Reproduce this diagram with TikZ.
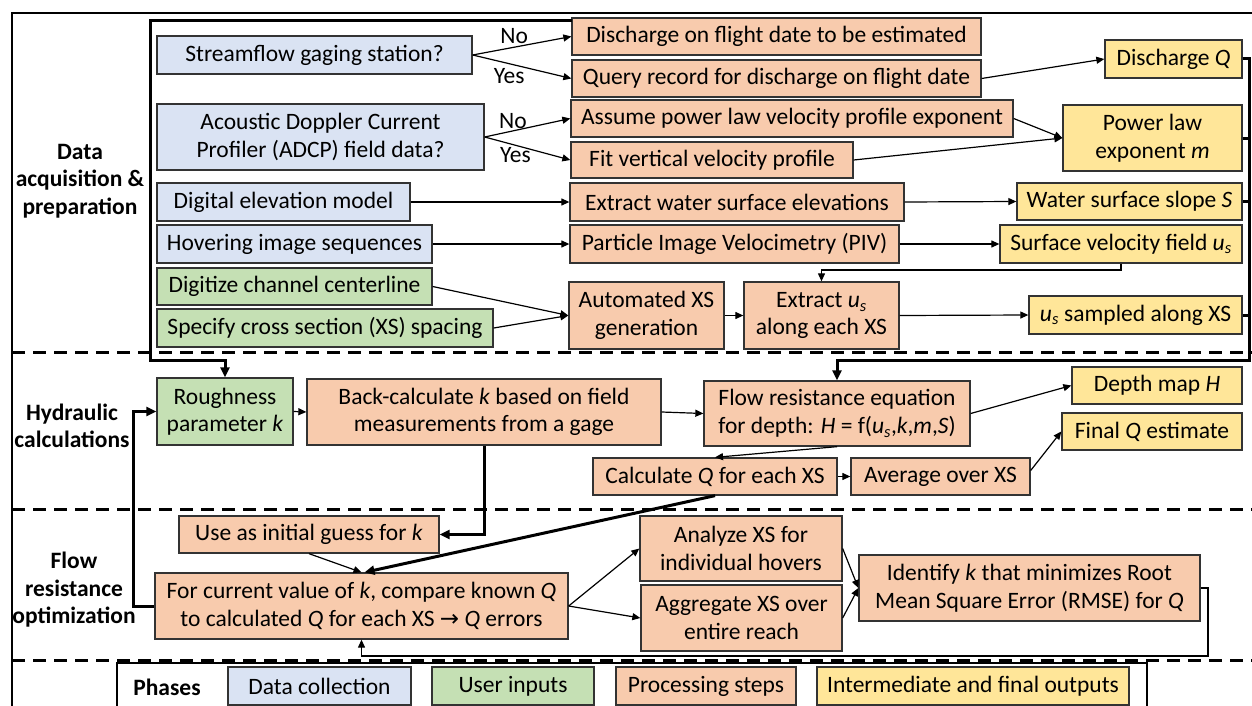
\documentclass[tikz,border=0pt]{standalone}
\usepackage{fontspec}
\setmainfont{Carlito}
\newfontfamily\arrowfont{DejaVu Sans}
\usetikzlibrary{arrows.meta}
\definecolor{cB}{HTML}{DAE3F3}
\definecolor{cG}{HTML}{C5E0B4}
\definecolor{cO}{HTML}{F8CBAD}
\definecolor{cY}{HTML}{FFE699}
\definecolor{cBd}{HTML}{333333}
\newcommand\us{\textit{u}\textsubscript{\textit{s}}}
\newcommand\bx[7]{\node[#2, minimum width={#5-#3}, minimum height={#6-#4}] (#1) at ({(#3+#5)/2},{(#4+#6)/2}) {#7};}
\tikzset{
  txt/.style={font=\fontsize{23.5}{27.5}\selectfont},
  base/.style={txt, draw=cBd, line width=1.3pt, inner sep=1pt, align=center},
  bbox/.style={base, fill=cB},
  gbox/.style={base, fill=cG},
  obox/.style={base, fill=cO},
  ybox/.style={base, fill=cY},
  conn/.style={line width=1.2pt, -{Triangle[length=8pt,width=7pt]}},
  thk/.style={line width=3pt},
  thka/.style={line width=3pt, -{Triangle[length=10pt,width=9pt]}},
  sep/.style={line width=3pt, dash pattern=on 13pt off 8pt},
  phase/.style={font=\fontsize{23.5}{27.5}\selectfont\bfseries, align=center},
  yn/.style={txt, inner sep=1pt}
}
\begin{document}
\begin{tikzpicture}[x=1pt,y=-1pt]
\useasboundingbox (0,0) rectangle (1252,706);
\clip (0,0) rectangle (1252,706);

% outer frame and separators
\draw[line width=2.6pt] (12,720) -- (12,13) -- (1260,13);
\draw[sep] (12,352) -- (1256,352);
\draw[sep] (12,509) -- (1256,509);
\draw[sep] (12,660) -- (1256,660);

% phase labels
\node[phase] (lab1) at (80,181) {Data\\acquisition \&\\preparation};
\node[phase] (lab2) at (72,426) {Hydraulic\\calculations};
\node[phase] (lab3) at (74,590) {Flow\\resistance\\optimization};

% data acquisition boxes
\bx{sgs}{bbox}{157}{36}{472}{74}{Streamflow gaging station?}
\bx{dis}{obox}{572}{18}{981}{55}{Discharge on flight date to be estimated}
\bx{qry}{obox}{572}{60}{981}{97}{Query record for discharge on flight date}
\bx{dq}{ybox}{1105}{40}{1242}{78}{Discharge \textit{Q}}
\bx{adcp}{bbox}{157}{104}{484}{170}{Acoustic Doppler Current\\Profiler (ADCP) field data?}
\bx{asm}{obox}{571}{100}{1013}{137}{Assume power law velocity profile exponent}
\bx{fit}{obox}{571}{142}{853}{178}{Fit vertical velocity profile}
\bx{plm}{ybox}{1063}{105}{1242}{171}{Power law\\exponent \textit{m}}
\bx{dem}{bbox}{157}{183}{410}{221}{Digital elevation model}
\bx{ews}{obox}{570}{183}{904}{221}{Extract water surface elevations}
\bx{wss}{ybox}{1017}{183}{1242}{220}{Water surface slope \textit{S}}
\bx{his}{bbox}{157}{225}{432}{263}{Hovering image sequences}
\bx{piv}{obox}{570}{225}{899}{263}{Particle Image Velocimetry (PIV)}
\bx{svf}{ybox}{1000}{225}{1242}{263}{Surface velocity field \us}
\bx{dcc}{gbox}{157}{268}{432}{305}{Digitize channel centerline}
\bx{scs}{gbox}{157}{309}{493}{347}{Specify cross section (XS) spacing}
\bx{axs}{obox}{569}{282}{724}{349}{Automated XS\\generation}
\bx{exu}{obox}{744}{282}{899}{349}{Extract \us\\along each XS}
\bx{uss}{ybox}{1029}{296}{1242}{334}{\us\ sampled along XS}

% hydraulic calculations boxes
\bx{rpk}{gbox}{157}{378}{293}{445}{Roughness\\parameter \textit{k}}
\bx{bck}{obox}{307}{379}{661}{445}{Back-calculate \textit{k} based on field\\measurements from a gage}
\bx{fre}{obox}{704}{381}{970}{446}{Flow resistance equation\\for depth: \textit{H} = f(\us,\textit{k},\textit{m},\textit{S})}
\bx{dmh}{ybox}{1072}{367}{1242}{404}{Depth map \textit{H}}
\bx{fqe}{ybox}{1062}{413}{1242}{450}{Final \textit{Q} estimate}
\bx{cq}{obox}{593}{458}{837}{495}{Calculate \textit{Q} for each XS}
\bx{avg}{obox}{851}{458}{1030}{495}{Average over XS}

% optimization boxes
\bx{uig}{obox}{179}{516}{439}{553}{Use as initial guess for \textit{k}}
\bx{fcv}{obox}{155}{573}{568}{639}{For current value of \textit{k}, compare known \textit{Q}\\to calculated \textit{Q} for each XS {\arrowfont\fontsize{23}{20}\selectfont →} \textit{Q} errors}
\bx{ana}{obox}{640}{516}{842}{581}{Analyze XS for\\individual hovers}
\bx{agg}{obox}{641}{585}{842}{651}{Aggregate XS over\\entire reach}
\bx{idk}{obox}{859}{555}{1200}{621}{Identify \textit{k} that minimizes Root\\Mean Square Error (RMSE) for \textit{Q}}

% legend
\draw[line width=1.5pt] (117,720) -- (117,663) -- (1147,663) -- (1147,720);
\node[phase] (leg) at (167,687) {Phases};
\bx{lb}{bbox}{228}{667}{411}{705}{Data collection}
\bx{lg}{gbox}{432}{667}{594}{705}{User inputs}
\bx{lo}{obox}{616}{667}{796}{705}{Processing steps}
\bx{ly}{ybox}{817}{667}{1129}{705}{Intermediate and final outputs}

% connectors: data acquisition
\draw[conn] (sgs.east) -- node[yn, pos=0.42, above=2pt] {No} (dis.west);
\draw[conn] (sgs.east) -- node[yn, pos=0.37, below=3pt] {Yes} (qry.west);
\draw[conn] (adcp.east) -- node[yn, pos=0.33, above=1pt] {No} (asm.west);
\draw[conn] (adcp.east) -- node[yn, pos=0.36, below=1pt] {Yes} (fit.west);
\draw[conn] (qry.east) -- (dq.west);
\draw[conn] (asm.east) -- (plm.west);
\draw[conn] (fit.east) -- (plm.west);
\draw[conn] (dem.east) -- (ews.west);
\draw[conn] (ews.east) -- (wss.west);
\draw[conn] (his.east) -- (piv.west);
\draw[conn] (piv.east) -- (svf.west);
\coordinate (sv1) at (1121,270);
\draw[conn] (svf.south -| sv1) -- (sv1) -| (exu.north);
\draw[conn] (dcc.east) -- (axs.west);
\draw[conn] (scs.east) -- (axs.west);
\draw[conn] (axs.east) -- (exu.west);
\draw[conn] (exu.east) -- (uss.west);

% brackets
\coordinate (lbt) at (572,21);
\coordinate (lbc) at (150,360);
\draw[thka] (lbt) -| (lbc) -| (rpk.north);
\coordinate (rb) at (1249,360);
\draw[thka] (dq.east) -| (rb) -| (fre.north);
\draw[thk] (plm.east) -- (plm.east -| rb);
\draw[thk] (wss.east) -- (wss.east -| rb);
\draw[thk] (uss.east) -- (uss.east -| rb);

% hydraulic connectors
\draw[conn] (rpk.east) -- (bck.west);
\draw[conn] (bck.east) -- (fre.west);
\draw[conn] (fre.east) -- (dmh.west);
\draw[conn] (fre.south) -- (cq.north);
\draw[conn] (cq.east) -- (avg.west);
\draw[conn] ([yshift=6pt]avg.east) -- (fqe.west);

% optimization connectors
\draw[thka] (bck.south) |- (uig.east);
\draw[conn] (uig.south) -- (fcv.north);
\draw[thka] (cq.south) -- ([xshift=3pt]fcv.north);
\coordinate (lpL) at (133,606);
\draw[thka] (fcv.west) -- (lpL) |- (rpk.west);
\draw[conn] (fcv.east) -- (ana.west);
\draw[conn] (fcv.east) -- (agg.west);
\draw[conn] (ana.east) -- (idk.west);
\draw[conn] (agg.east) -- (idk.west);
\coordinate (lpR) at (1208,656);
\draw[conn] (idk.east) -| (lpR) -| (fcv.south);
\end{tikzpicture}
\end{document}
